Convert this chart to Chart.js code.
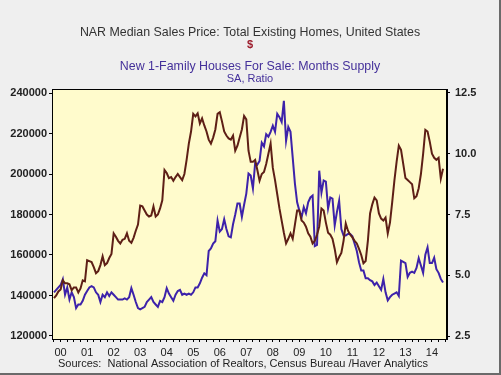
<!DOCTYPE html>
<html>
<head>
<meta charset="utf-8">
<script src="https://cdn.jsdelivr.net/npm/chart.js@4.4.1/dist/chart.umd.min.js"></script>
<style>
  html, body { margin: 0; padding: 0; background: #efefef; }
  #wrap { width: 501px; height: 375px; position: relative; }
</style>
</head>
<body>
<div id="wrap"><canvas id="chart" width="501" height="375"></canvas></div>
<script>
// monthly, Jan 2000 .. Sep 2014
const yearLabels = ["00","01","02","03","04","05","06","07","08","09","10","11","12","13","14"];
const priceTicks = [120000,140000,160000,180000,200000,220000,240000];
const supplyTicks = [2.5,5.0,7.5,10.0,12.5];

// NAR median sales price, $
const medianPrice = [
  138700,140000,142000,143000,147500,146000,146000,145500,142600,144000,144000,141500,
  143500,147500,147000,157400,157000,156500,154000,151000,152000,155000,159300,155000,
  156000,158500,160500,170700,169000,167000,165700,167500,168000,170700,167000,166000,
  168500,172000,175000,184400,184000,182000,180000,179000,179500,184000,179000,180000,
  183000,187000,202000,200500,198000,198500,196700,198500,200000,198500,197000,200000,
  207000,215000,221000,229700,228500,230000,225000,227500,224000,221000,217000,215000,
  218000,222000,229700,230500,226000,221000,219000,217600,217000,219000,211500,214000,
  218000,222000,228700,227000,211500,206000,206000,207000,202000,196700,200000,201000,
  205000,210000,215000,203000,197000,190000,183000,177000,171000,165700,168000,170700,
  168000,175000,182000,182000,177000,176000,174000,170700,169000,165700,167000,170000,
  174000,183000,182000,176000,171000,170000,168000,163000,156400,159000,161000,167000,
  175600,172000,170000,168700,167000,165700,163000,160000,155900,157000,167000,180500,
  185000,188400,187000,180500,178000,177000,178500,170700,176000,186000,196700,206000,
  214000,212000,205000,198000,197000,196000,195000,188000,189000,193000,200000,210000,
  221800,221000,216000,210000,208000,207000,208000,197700,202600
];

// New 1-family houses for sale: months supply, SA
const monthsSupply = [
  4.3,4.4,4.5,4.6,4.84,4.2,4.5,4.0,4.3,4.1,3.65,3.8,
  3.8,3.95,4.2,4.35,4.5,4.55,4.5,4.3,4.2,3.9,4.2,4.1,
  4.3,4.15,4.3,4.2,4.1,4.0,4.0,4.0,4.05,4.0,4.1,4.47,
  4.2,3.9,3.65,3.6,3.65,3.7,3.9,4.0,4.1,3.9,3.8,3.7,
  3.95,3.9,4.1,4.47,4.25,4.1,3.95,4.2,4.35,4.4,4.2,4.25,
  4.2,4.25,4.2,4.3,4.5,4.5,4.67,4.9,5.08,5.0,6.0,6.1,
  6.3,6.4,7.25,6.8,6.9,7.3,6.9,6.6,6.56,7.1,7.5,7.95,
  7.95,7.4,7.9,8.36,9.18,9.1,8.57,9.6,9.55,9.7,10.45,10.3,
  10.8,10.7,10.9,11.15,10.9,11.64,11.5,11.3,12.17,10.53,11.1,10.9,
  9.84,8.77,8.0,7.66,7.38,7.8,7.55,8.0,8.2,8.28,6.2,6.25,
  9.3,8.4,8.9,8.85,7.75,8.2,8.15,7.05,7.6,8.07,6.9,6.64,
  6.64,6.7,6.7,6.6,6.3,6.0,5.53,5.2,5.2,4.88,4.88,4.8,
  4.75,4.6,4.7,4.55,4.4,4.85,4.3,3.97,4.1,4.2,4.25,4.3,
  4.15,5.6,5.55,5.5,4.93,5.1,5.15,5.1,5.3,5.7,5.4,5.1,
  5.85,6.15,5.5,5.5,5.72,5.25,5.1,4.85,4.7
];

const FONT = "'Liberation Sans', Arial, sans-serif";
const xMin = -0.9, xMax = 177.8;

const backdrop = {
  id: 'backdrop',
  beforeDraw(chart) {
    const c = chart.ctx, a = chart.chartArea;
    c.save();
    c.fillStyle = '#efefef';
    c.fillRect(0, 0, chart.width, chart.height);
    c.fillStyle = '#6a6a6a';
    c.fillRect(chart.width - 2, 0, 2, chart.height);
    c.fillRect(0, chart.height - 2, chart.width, 2);
    c.fillStyle = '#fffbcc';
    c.fillRect(a.left, a.top, a.right - a.left, a.bottom - a.top);
    c.restore();
  },
  afterDraw(chart) {
    const c = chart.ctx, a = chart.chartArea;
    c.save();
    c.strokeStyle = '#000';
    c.lineWidth = 1;
    c.strokeRect(a.left + 0.5, a.top + 0.5, a.right - a.left - 1, a.bottom - a.top);
    c.textAlign = 'center';
    c.textBaseline = 'middle';
    c.fillStyle = '#333333';
    c.font = '12.4px ' + FONT;
    c.fillText('NAR Median Sales Price: Total Existing Homes, United States', 250, 33);
    c.fillStyle = '#9c1c2c';
    c.font = 'bold 11px ' + FONT;
    c.fillText('$', 250, 45);
    c.fillStyle = '#44309a';
    c.font = '12.4px ' + FONT;
    c.fillText('New 1-Family Houses For Sale: Months Supply', 250, 67);
    c.font = '11px ' + FONT;
    c.fillText('SA, Ratio', 250, 79);
    c.textAlign = 'left';
    c.fillStyle = '#222';
    c.fillText('Sources:  National Association of Realtors, Census Bureau /Haver Analytics', 58, 364);
    c.restore();
  }
};

const ctx = document.getElementById('chart').getContext('2d');
new Chart(ctx, {
  type: 'line',
  data: {
    datasets: [
      {
        label: 'Median price',
        data: medianPrice.map((v, i) => ({ x: i, y: v })),
        borderColor: '#5e1f16',
        borderWidth: 2,
        pointRadius: 0,
        tension: 0,
        yAxisID: 'yPrice',
        xAxisID: 'x'
      },
      {
        label: 'Months supply',
        data: monthsSupply.map((v, i) => ({ x: i, y: v })),
        borderColor: '#3d22aa',
        borderWidth: 2,
        pointRadius: 0,
        tension: 0,
        yAxisID: 'ySupply',
        xAxisID: 'x'
      }
    ]
  },
  options: {
    responsive: false,
    animation: false,
    events: [],
    layout: { padding: { top: 89, left: 0, right: 0, bottom: 11 } },
    plugins: { legend: { display: false }, tooltip: { enabled: false } },
    scales: {
      x: {
        type: 'linear', position: 'bottom', weight: 0,
        min: xMin, max: xMax,
        afterBuildTicks: s => { s.ticks = []; for (let m = 0; m <= 177; m += 3) s.ticks.push({ value: m }); },
        afterFit: s => { s.height = 5; },
        ticks: { display: false },
        grid: { drawOnChartArea: false, drawTicks: true, tickLength: 3, color: '#000' },
        border: { display: true, color: '#000', width: 1 }
      },
      xYears: {
        type: 'linear', position: 'bottom', weight: 1,
        min: xMin, max: xMax,
        afterBuildTicks: s => { s.ticks = yearLabels.map((t, k) => ({ value: 12 * k + 3 })); },
        afterFit: s => { s.height = 20; },
        ticks: {
          autoSkip: false, maxRotation: 0, padding: 2, color: '#222',
          font: { family: FONT, size: 11 },
          callback: (v, i) => yearLabels[i]
        },
        grid: { display: false, drawTicks: false, tickLength: 0 },
        border: { display: false }
      },
      yPrice: {
        position: 'left',
        min: 118500, max: 242000,
        afterBuildTicks: s => { s.ticks = priceTicks.map(v => ({ value: v })); },
        afterFit: s => { s.width = 52; },
        ticks: {
          padding: 2, color: '#222',
          font: { family: FONT, size: 11, weight: 'bold' },
          callback: v => String(v)
        },
        grid: { drawOnChartArea: false, tickLength: 3, color: '#000' },
        border: { display: true, color: '#000' }
      },
      ySupply: {
        position: 'right',
        min: 2.38, max: 12.66,
        afterBuildTicks: s => { s.ticks = supplyTicks.map(v => ({ value: v })); },
        afterFit: s => { s.width = 54; },
        ticks: {
          padding: 5, color: '#222',
          font: { family: FONT, size: 11, weight: 'bold' },
          callback: v => v.toFixed(1)
        },
        grid: { drawOnChartArea: false, tickLength: 3, color: '#000' },
        border: { display: true, color: '#000' }
      }
    }
  },
  plugins: [backdrop]
});
</script>
</body>
</html>
